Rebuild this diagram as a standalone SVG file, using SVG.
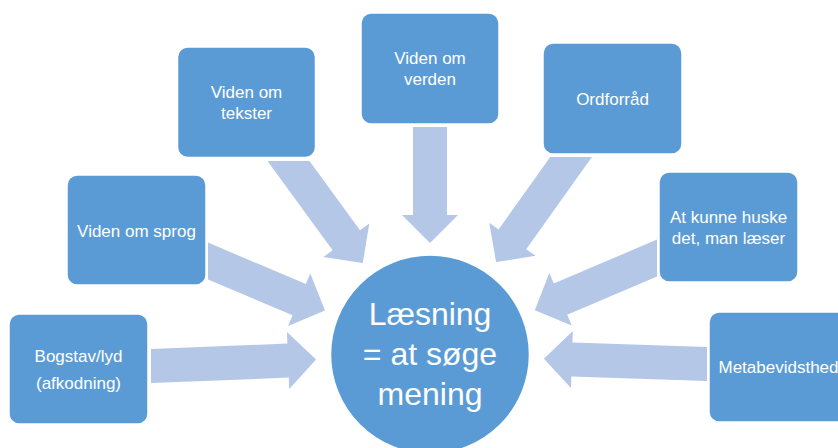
<svg xmlns="http://www.w3.org/2000/svg" width="838" height="448" viewBox="0 0 838 448">
<style>
.box{fill:#5B9BD5;stroke:#FFFFFF;stroke-width:1.5}
.arr{fill:#B4C7E7}
.lbl{font-family:"Liberation Sans",Arial,sans-serif;font-size:17px;fill:#FFFFFF;text-anchor:middle}
.big{font-family:"Liberation Sans",Arial,sans-serif;font-size:32px;fill:#FFFFFF;text-anchor:middle}
</style>
<rect width="838" height="448" fill="#FFFFFF"/>
<g id="connectors">
<polygon class="arr" points="151,349 287.4,343.6 287,332.1 316.1,359.5 289.2,389.1 288.8,377.6 151,383"/>
<polygon class="arr" points="208,242.6 305.8,284 310.3,273.5 325,310.6 288.1,325.9 292.6,315.3 208,279.5"/>
<polygon class="arr" points="267.5,161 332.6,250.3 323.3,257.1 362.8,262.9 369.3,223.5 360,230.3 309.5,161"/>
<polygon class="arr" points="413,127 447,127 447,215 458,215 430,243 402,215 413,215"/>
<polygon class="arr" points="550.2,157 591.9,157 526.2,249.2 535.6,255.8 496.1,262.1 489.2,222.8 498.6,229.4"/>
<polygon class="arr" points="657,239.5 657,276.4 567.2,314.8 571.7,325.4 534.8,310.2 549.3,273 553.8,283.6"/>
<polygon class="arr" points="707,347 707,381 571.3,376.6 571,388.1 543.9,358.7 572.8,331.1 572.5,342.6"/>
</g>
<g id="center">
<circle cx="430" cy="354.5" r="99.5" fill="#5B9BD5" stroke="#FFFFFF" stroke-width="1.5"/>
<text class="big" x="430" y="325">Læsning</text>
<text class="big" x="430" y="365">= at søge</text>
<text class="big" x="430" y="405">mening</text>
</g>
<g id="bogstav">
<rect class="box" x="9" y="314" width="139" height="110" rx="10"/>
<text class="lbl" x="78.5" y="362">Bogstav/lyd</text>
<text class="lbl" x="78.5" y="389">(afkodning)</text>
</g>
<g id="sprog">
<rect class="box" x="67" y="175" width="139" height="110" rx="10"/>
<text class="lbl" x="136.5" y="236.5">Viden om sprog</text>
</g>
<g id="tekster">
<rect class="box" x="177.5" y="47" width="138" height="110.5" rx="10"/>
<text class="lbl" x="246.5" y="98">Viden om</text>
<text class="lbl" x="246.5" y="119">tekster</text>
</g>
<g id="verden">
<rect class="box" x="361" y="13" width="138" height="111" rx="10"/>
<text class="lbl" x="430" y="64">Viden om</text>
<text class="lbl" x="430" y="85">verden</text>
</g>
<g id="ordforraad">
<rect class="box" x="543" y="43" width="139" height="111" rx="10"/>
<text class="lbl" x="612.5" y="104.5">Ordforråd</text>
</g>
<g id="huske">
<rect class="box" x="659" y="172" width="139" height="110" rx="10"/>
<text class="lbl" x="728.5" y="222.5">At kunne huske</text>
<text class="lbl" x="728.5" y="243.5">det, man læser</text>
</g>
<g id="meta">
<rect class="box" x="709" y="312" width="139" height="110" rx="10"/>
<text class="lbl" x="778.5" y="372.5">Metabevidsthed</text>
</g>
</svg>
